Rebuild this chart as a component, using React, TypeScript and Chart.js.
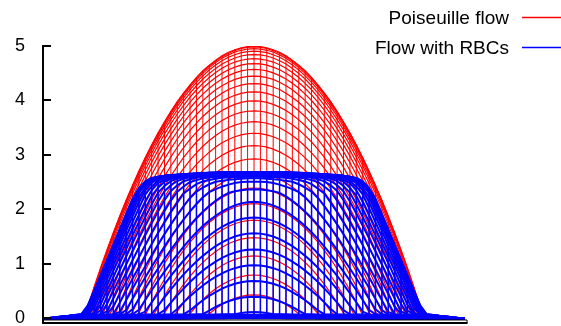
import React, { useEffect, useRef } from "react";
import { Chart, registerables } from "chart.js";

Chart.register(...registerables);

// Legend labels
const seriesLabels = ["Poiseuille flow", "Flow with RBCs"];
const seriesColors = ["#ff0000", "#0000ff"];

// Y axis tick labels
const yTicks = [0, 1, 2, 3, 4, 5];

// Radial positions (r / R) at which the velocity profiles were read
const radiusSamples = [
  0, 0.05, 0.1, 0.15, 0.2, 0.25, 0.3, 0.35, 0.4, 0.45, 0.5, 0.55, 0.6, 0.65,
  0.7, 0.75, 0.8, 0.85, 0.9, 0.95, 1.0, 1.05, 1.1, 1.15, 1.2, 1.25,
];

// Poiseuille flow velocity at each radius
const poiseuilleProfile = [
  5.0, 4.988, 4.95, 4.888, 4.8, 4.688, 4.55, 4.388, 4.2, 3.988, 3.75, 3.488,
  3.2, 2.888, 2.55, 2.188, 1.8, 1.388, 0.95, 0.488, 0, 0, 0, 0, 0, 0,
];

// Flow with RBCs velocity at each radius
const rbcProfile = [
  2.69, 2.69, 2.69, 2.685, 2.68, 2.675, 2.67, 2.66, 2.65, 2.64, 2.63, 2.61,
  2.58, 2.5, 2.3, 1.93, 1.56, 1.18, 0.81, 0.44, 0.08, 0.065, 0.045, 0.03,
  0.01, 0,
];

// Mesh positions across the vessel (horizontal grid lines)
const xGrid = [
  -1.2408, -1.2032, -1.1656, -1.128, -1.0904, -1.0528, -1.0152, -0.9776,
  -0.94, -0.9024, -0.8648, -0.8272, -0.7896, -0.752, -0.7144, -0.6768,
  -0.6392, -0.6016, -0.564, -0.5264, -0.4888, -0.4512, -0.4136, -0.376,
  -0.3384, -0.3008, -0.2632, -0.2256, -0.188, -0.1504, -0.1128, -0.0752,
  -0.0376, 0, 0.0376, 0.0752, 0.1128, 0.1504, 0.188, 0.2256, 0.2632, 0.3008,
  0.3384, 0.376, 0.4136, 0.4512, 0.4888, 0.5264, 0.564, 0.6016, 0.6392,
  0.6768, 0.7144, 0.752, 0.7896, 0.8272, 0.8648, 0.9024, 0.94, 0.9776,
  1.0152, 1.0528, 1.0904, 1.128, 1.1656, 1.2032, 1.2408,
];

// Mesh positions in depth (each gives one profile curve)
const depthGrid = [
  0.0195, 0.0585, 0.0975, 0.1365, 0.1755, 0.2145, 0.2535, 0.2925, 0.3315,
  0.3705, 0.4095, 0.4485, 0.4875, 0.5265, 0.5655, 0.6045, 0.6435, 0.6825,
  0.7215, 0.7605, 0.7995, 0.8385, 0.8775, 0.9165, 0.9555, 0.9945, 1.0335,
  1.0725, 1.1115, 1.1505, 1.1895, 1.2285,
];

function profileAt(values: number[], r: number): number {
  const last = radiusSamples.length - 1;
  if (r >= radiusSamples[last]) return values[last];
  for (let i = 0; i < last; i++) {
    const r0 = radiusSamples[i];
    const r1 = radiusSamples[i + 1];
    if (r >= r0 && r <= r1) {
      const t = (r - r0) / (r1 - r0);
      return values[i] + (values[i + 1] - values[i]) * t;
    }
  }
  return values[0];
}

function buildSurface(values: number[], color: string, width: number, vWidth: number, order: number) {
  const sets: any[] = [];
  depthGrid.forEach((d) => {
    sets.push({
      label: "",
      data: xGrid.map((x) => ({ x, y: profileAt(values, Math.hypot(x, d)) })),
      borderColor: color,
      borderWidth: width,
      showLine: true,
      pointRadius: 0,
      tension: 0,
      order,
    });
  });
  const verticals: any[] = [];
  xGrid.forEach((x) => {
    const top = profileAt(values, Math.abs(x));
    if (top > 0.02) {
      verticals.push({ x, y: 0 }, { x, y: top }, { x, y: null });
    }
  });
  sets.push({
    label: "",
    data: verticals,
    borderColor: color,
    borderWidth: vWidth,
    showLine: true,
    spanGaps: false,
    pointRadius: 0,
    order,
  });
  return sets;
}

const decorPlugin = {
  id: "decor",
  afterDraw(chart: any) {
    const { ctx, chartArea, scales } = chart;
    const y = scales.y;
    ctx.save();
    ctx.strokeStyle = "#000000";
    // inward ticks on y axis
    ctx.lineWidth = 2;
    yTicks.forEach((v) => {
      const py = Math.round(y.getPixelForValue(v));
      ctx.beginPath();
      ctx.moveTo(chartArea.left, py);
      ctx.lineTo(chartArea.left + 8, py);
      ctx.stroke();
    });
    // zero line
    const py0 = y.getPixelForValue(0) + 1.5;
    ctx.lineWidth = 1;
    ctx.beginPath();
    ctx.moveTo(chartArea.left, py0);
    ctx.lineTo(chartArea.right + 2, py0);
    ctx.stroke();
    // bottom border
    ctx.lineWidth = 2;
    ctx.beginPath();
    ctx.moveTo(chartArea.left - 1, chartArea.bottom);
    ctx.lineTo(chartArea.right + 2.5, chartArea.bottom);
    ctx.stroke();
    ctx.lineWidth = 1;
    ctx.beginPath();
    ctx.moveTo(chartArea.right + 2, py0);
    ctx.lineTo(chartArea.right + 2, chartArea.bottom);
    ctx.stroke();
    ctx.restore();

    // legend
    const rows = [17.5, 47.5];
    seriesLabels.forEach((label, i) => {
      ctx.save();
      ctx.beginPath();
      ctx.strokeStyle = seriesColors[i];
      ctx.lineWidth = 1.3;
      ctx.moveTo(522, rows[i]);
      ctx.lineTo(561, rows[i]);
      ctx.stroke();
      ctx.font = "19px 'Liberation Sans', Arial, sans-serif";
      ctx.textAlign = "right";
      ctx.textBaseline = "middle";
      ctx.fillStyle = "#000000";
      ctx.fillText(label, 509, rows[i] + 1);
      ctx.restore();
    });
  },
};

export default function App() {
  const canvasRef = useRef<HTMLCanvasElement | null>(null);

  useEffect(() => {
    if (!canvasRef.current) return;
    const datasets = [
      ...buildSurface(rbcProfile, seriesColors[1], 2, 1.5, 0),
      ...buildSurface(poiseuilleProfile, seriesColors[0], 1.2, 1, 1),
    ];
    const chart = new Chart(canvasRef.current, {
      type: "scatter",
      data: { datasets },
      options: {
        animation: false,
        responsive: true,
        maintainAspectRatio: false,
        devicePixelRatio: 1,
        layout: { padding: { top: 46, right: 96, bottom: 3, left: 0 } },
        plugins: { legend: { display: false }, tooltip: { enabled: false } },
        events: [],
        scales: {
          x: {
            type: "linear",
            min: xGrid[0],
            max: xGrid[xGrid.length - 1],
            display: false,
          },
          y: {
            type: "linear",
            min: -0.083,
            max: 5,
            afterBuildTicks: (scale: any) => {
              scale.ticks = yTicks.map((v) => ({ value: v }));
            },
            afterFit: (scale: any) => {
              scale.width = 43;
              scale.paddingTop = 0;
              scale.paddingBottom = 0;
            },
            grid: { display: false, drawTicks: false },
            border: { display: true, color: "#000", width: 2 },
            ticks: {
              padding: 18,
              color: "#000",
              font: { family: "'Liberation Sans', Arial, sans-serif", size: 18 },
            },
          },
        },
      },
      plugins: [decorPlugin],
    });
    return () => chart.destroy();
  }, []);

  return (
    <div style={{ position: "fixed", left: 0, top: 0, width: 561, height: 326, background: "#fff" }}>
      <canvas ref={canvasRef} />
    </div>
  );
}
